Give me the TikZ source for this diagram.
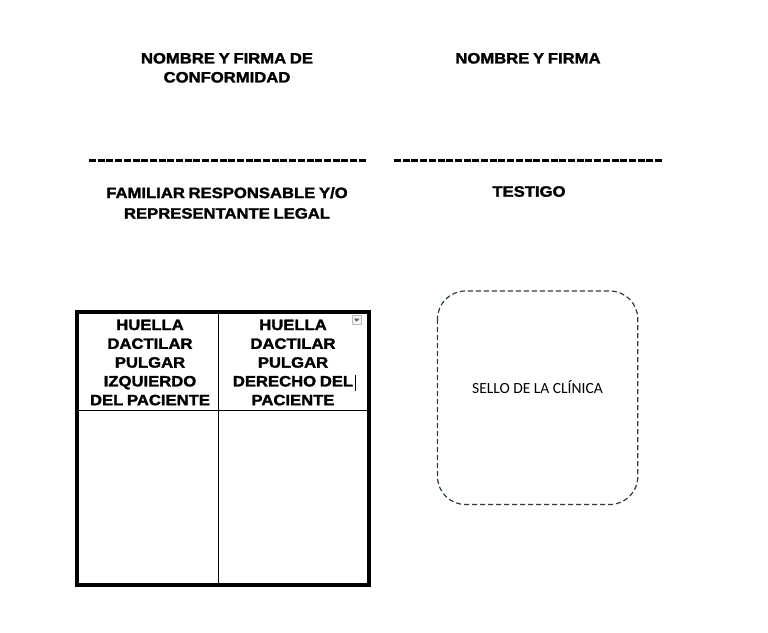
\documentclass[tikz,border=0pt]{standalone}
\usepackage{fontspec}
\newfontfamily\hfont{Liberation Sans}[FakeStretch=1.11,WordSpace=0.8,BoldFeatures={FakeBold=1.8}]
\newfontfamily\sfont{Carlito}
\definecolor{stampline}{HTML}{2B3A42}
\definecolor{iconborder}{HTML}{BDBDBD}
\definecolor{iconfill}{HTML}{F3F3F3}
\definecolor{icontri}{HTML}{555555}
\tikzset{
  title/.style={font={\hfont\bfseries\fontsize{15}{19}\selectfont},align=center,anchor=north,inner sep=0pt,text=black},
  cellhead/.style={font={\hfont\bfseries\fontsize{15}{18.8}\selectfont},align=center,anchor=north,inner sep=0pt,text=black},
  sigline/.style={line width=3pt,dash pattern=on 7pt off 1.7pt,black},
  stamp/.style={draw=stampline,line width=1.2pt,dash pattern=on 5pt off 3pt,rounded corners=28pt},
  stamptext/.style={font={\sfont\fontsize{15.5}{18}\selectfont},anchor=base,inner sep=0pt,text=black},
}
\begin{document}
\begin{tikzpicture}[x=1pt,y=-1pt]
\useasboundingbox[fill=white] (0,0) rectangle (768,632);
% top titles
\node[title] (t1) at (227,52.8) {NOMBRE Y FIRMA DE\\CONFORMIDAD};
\node[title] (t2) at (528,52.8) {NOMBRE Y FIRMA};
% signature lines
\coordinate (l1a) at (89,160.5);
\coordinate (l1b) at (366,160.5);
\coordinate (l2a) at (394,160.5);
\coordinate (l2b) at (662.5,160.5);
\draw[sigline] (l1a) -- (l1b);
\draw[sigline] (l2a) -- (l2b);
% captions
\node[title,font={\hfont\bfseries\fontsize{15}{20.5}\selectfont}] (c1) at (227,187) {FAMILIAR RESPONSABLE Y/O\\REPRESENTANTE LEGAL};
\node[title] (c2) at (529,186) {TESTIGO};
% table
\coordinate (tl) at (77,312);
\coordinate (br) at (368.7,585.4);
\coordinate (vt) at (218.8,312);
\coordinate (vb) at (218.8,585.4);
\coordinate (hl) at (77,410.7);
\coordinate (hr) at (368.7,410.7);
\draw[line width=1.1pt] (vt) -- (vb);
\draw[line width=1.1pt] (hl) -- (hr);
\draw[line width=4pt] (tl) rectangle (br);
\node[cellhead] (h1) at (150,319.5) {HUELLA\\DACTILAR\\PULGAR\\IZQUIERDO\\DEL PACIENTE};
\node[cellhead] (h2) at (293,319.5) {HUELLA\\DACTILAR\\PULGAR\\DERECHO DEL\\PACIENTE};
% dropdown icon and cursor
\node[draw=iconborder,fill=iconfill,line width=0.8pt,minimum width=8.7pt,minimum height=8.6pt,inner sep=0pt] (dd) at (356.7,320) {};
\fill[icontri] ([xshift=-2.6pt,yshift=1.3pt]dd.center) -- ([xshift=2.6pt,yshift=1.3pt]dd.center) -- ([yshift=-1.7pt]dd.center) -- cycle;
\coordinate (cu1) at (355.7,375);
\coordinate (cu2) at (355.7,391);
\draw[line width=1.1pt] (cu1) -- (cu2);
% stamp
\coordinate (s1) at (437.5,291);
\coordinate (s2) at (637.8,504.5);
\draw[stamp] (s1) rectangle (s2);
\node[stamptext] (st) at (537.5,393) {SELLO DE LA CLÍNICA};
\end{tikzpicture}
\end{document}
